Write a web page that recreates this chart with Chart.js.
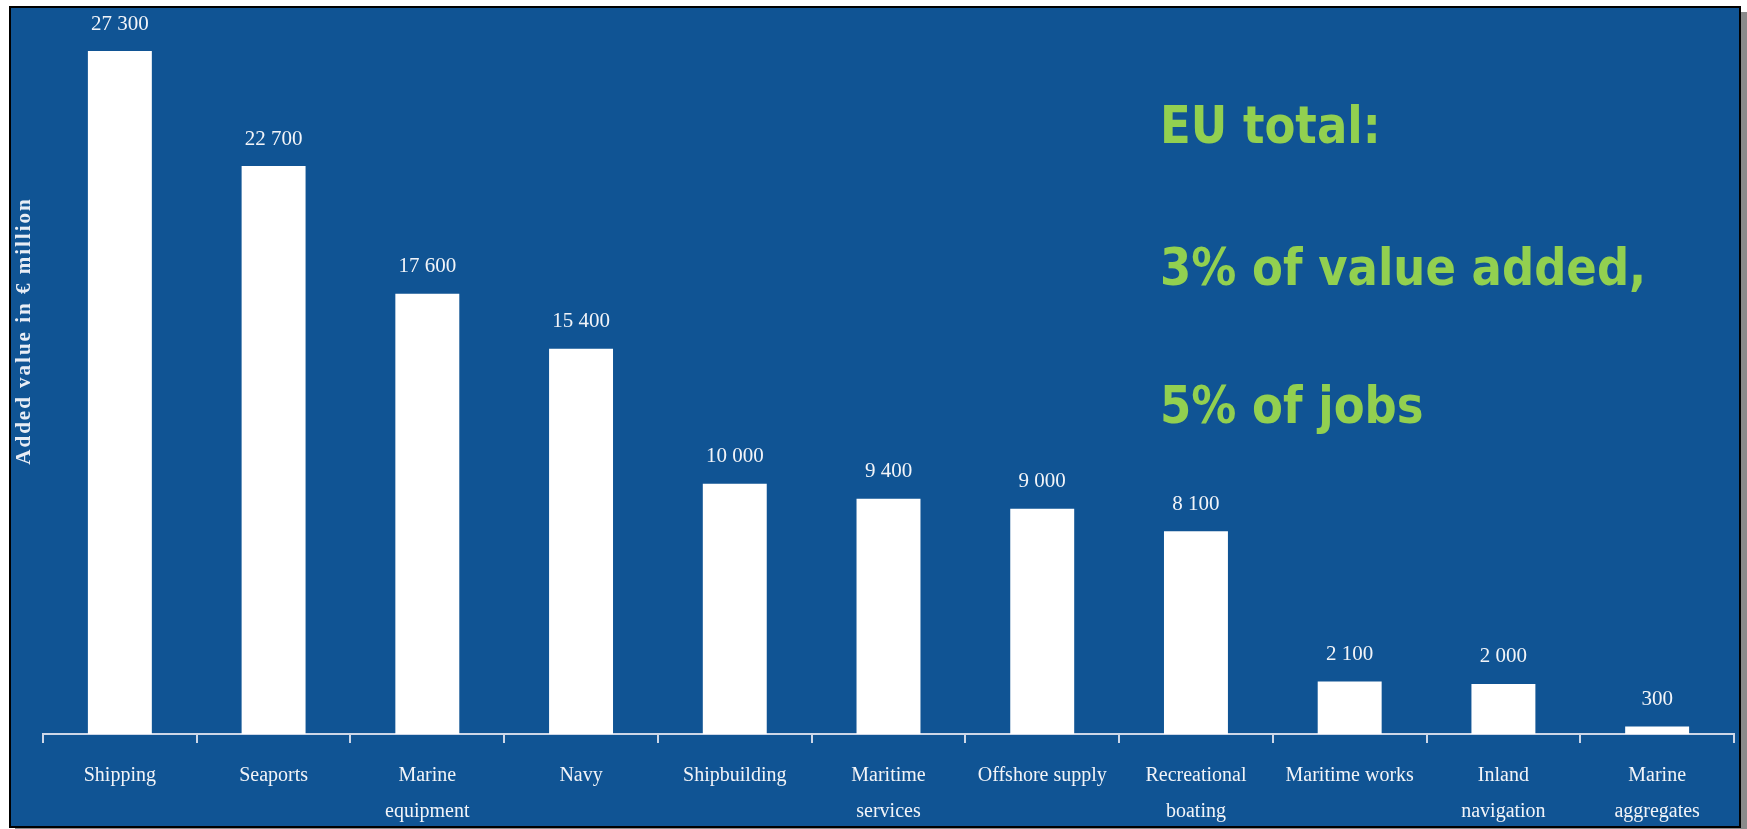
<!DOCTYPE html>
<html>
<head>
<meta charset="utf-8">
<script src="https://cdn.jsdelivr.net/npm/chart.js@4.4.1/dist/chart.umd.min.js"></script>
<style>
  html, body { margin: 0; padding: 0; background: #ffffff; overflow: hidden; }
  #panel {
    position: absolute; left: 9px; top: 6px; width: 1728px; height: 818px;
    background: #105494; border: 2px solid #000; box-shadow: 6px 6px 0 #8a8a8a;
  }
  #wrap { position: absolute; left: 0; top: 0; width: 1747px; height: 855px; }
</style>
</head>
<body>
<div id="panel"></div>
<div id="wrap"><canvas id="valueChart"></canvas></div>
<script>
const sectors = [
  ['Shipping'], ['Seaports'], ['Marine', 'equipment'], ['Navy'], ['Shipbuilding'],
  ['Maritime', 'services'], ['Offshore supply'], ['Recreational', 'boating'],
  ['Maritime works'], ['Inland', 'navigation'], ['Marine', 'aggregates']
]
const addedValue = [27300, 22700, 17600, 15400, 10000, 9400, 9000, 8100, 2100, 2000, 300]
const yTitle = 'Added value in € million'
const notes = ['EU total:', '3% of value added,', '5% of jobs']

function fmt (n) {
    return n.toString().replace(/\B(?=(\d{3})+(?!\d))/g, ' ')
}

const extras = {
    id: 'extras',
    afterDatasetsDraw (chart) {
        const ctx = chart.ctx
        ctx.save()
        ctx.fillStyle = '#f2f4f8'
        ctx.font = '21px "Liberation Serif", serif'
        ctx.textAlign = 'center'
        ctx.textBaseline = 'middle'
        chart.getDatasetMeta(0).data.forEach(function (bar, i) {
            ctx.fillText(fmt(addedValue[i]), bar.x, bar.y - 27)
        })

        // rotated axis title
        ctx.save()
        ctx.translate(25, 331)
        ctx.rotate(-Math.PI / 2)
        ctx.font = 'bold 21px "Liberation Serif", serif'
        ctx.letterSpacing = '2px'
        ctx.fillStyle = '#e8edf5'
        ctx.fillText(yTitle, 0, 0)
        ctx.restore()

        // green notes
        ctx.font = 'bold 45px "DejaVu Sans", sans-serif'
        ctx.fillStyle = '#92d050'
        ctx.textAlign = 'left'
        ctx.textBaseline = 'alphabetic'
        const baselines = [143, 285, 423]
        notes.forEach(function (t, i) {
            ctx.save()
            ctx.translate(1160, baselines[i])
            ctx.scale(1, 1.16)
            ctx.fillText(t, 0, 0)
            ctx.restore()
        })
        ctx.restore()
    }
}

new Chart(document.getElementById('valueChart'), {
    type: 'bar',
    data: {
        labels: sectors,
        datasets: [{
            data: addedValue,
            backgroundColor: '#ffffff',
            categoryPercentage: 1,
            barPercentage: 0.416,
        }],
    },
    options: {
        responsive: true,
        maintainAspectRatio: false,
        animation: false,
        layout: { padding: { left: 43, right: 13, top: 51, bottom: 10 } },
        plugins: { legend: { display: false }, tooltip: { enabled: false } },
        scales: {
            x: {
                grid: { drawOnChartArea: false, color: '#cdd7e8', tickLength: 9, lineWidth: 2 },
                border: { color: '#cdd7e8', width: 2 },
                ticks: {
                    color: '#f2f4f8',
                    font: { family: '"Liberation Serif", serif', size: 20, lineHeight: 1.8 },
                    padding: 15,
                    maxRotation: 0,
                    autoSkip: false,
                },
            },
            y: { display: false, min: 0, max: 27300 },
        },
    },
    plugins: [extras],
})
</script>
</body>
</html>
